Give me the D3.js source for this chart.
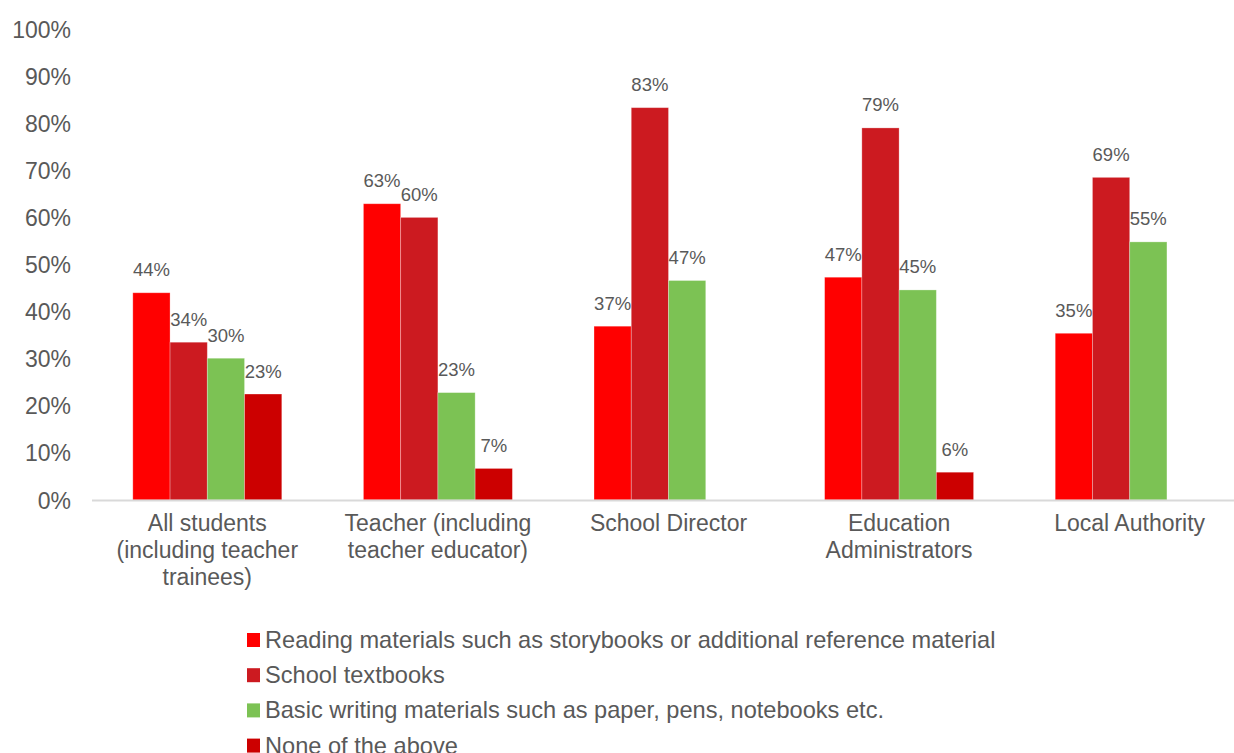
<!DOCTYPE html>
<html>
<head>
<meta charset="utf-8">
<script src="https://cdn.jsdelivr.net/npm/d3@7"></script>
<style>
  html, body { margin: 0; padding: 0; background: #ffffff; }
  svg { display: block; }
  text { font-family: "Liberation Sans", Arial, sans-serif; fill: #595959; }
</style>
</head>
<body>
<svg id="chart" width="1234" height="753"></svg>
<script>
// ---- Data ----
const categories = [
  ["All students", "(including teacher", "trainees)"],
  ["Teacher (including", "teacher educator)"],
  ["School Director"],
  ["Education", "Administrators"],
  ["Local Authority"]
];
const seriesNames = [
  "Reading materials such as storybooks or additional reference material",
  "School textbooks",
  "Basic writing materials such as paper, pens, notebooks etc.",
  "None of the above"
];
const readingMaterials = [44.0, 62.9, 36.9, 47.3, 35.4];
const schoolTextbooks  = [33.5, 60.0, 83.3, 79.0, 68.5];
const writingMaterials = [30.1, 22.8, 46.6, 44.6, 54.8];
const noneOfTheAbove   = [22.5, 6.7, null, 5.9, null];
const seriesColors = ["#ff0000", "#cc1a20", "#7cc254", "#cc0000"];
const yTicks = [0, 10, 20, 30, 40, 50, 60, 70, 80, 90, 100];

const seriesValues = [readingMaterials, schoolTextbooks, writingMaterials, noneOfTheAbove];

// ---- Layout ----
const svg = d3.select("#chart");
const x0 = d3.scaleBand()
  .domain(d3.range(categories.length))
  .range([92, 1245])
  .paddingInner(0.354)
  .paddingOuter(0.177);
const x1 = d3.scaleBand()
  .domain(d3.range(seriesNames.length))
  .range([0, x0.bandwidth()]);
const y = d3.scaleLinear().domain([0, 100]).range([500, 29]);

// Y tick labels
const yAxis = d3.axisLeft(y)
  .tickValues(yTicks)
  .tickFormat(d => d + "%")
  .tickSize(0)
  .tickPadding(0);
const yG = svg.append("g").attr("transform", "translate(71,0)").call(yAxis);
yG.select(".domain").remove();
yG.selectAll("text")
  .style("font-size", "23px")
  .style("font-family", "'Liberation Sans', Arial, sans-serif")
  .attr("fill", "#595959")
  .attr("dy", "0.35em");

// Bars
const groups = svg.append("g").selectAll("g")
  .data(categories)
  .join("g")
  .attr("transform", (d, i) => `translate(${x0(i)},0)`);

groups.each(function(cat, ci) {
  const g = d3.select(this);
  const rows = seriesValues.map((vals, si) => ({ si, v: vals[ci] }))
    .filter(d => d.v !== null);
  g.selectAll("rect")
    .data(rows)
    .join("rect")
    .attr("x", d => x1(d.si))
    .attr("y", d => y(d.v))
    .attr("width", x1.bandwidth())
    .attr("height", d => y(0) - y(d.v))
    .attr("fill", d => seriesColors[d.si])
    .attr("stroke", "#ffffff")
    .attr("stroke-opacity", 0.35)
    .attr("stroke-width", 0.8);
  g.selectAll("text.lbl")
    .data(rows)
    .join("text")
    .attr("class", "lbl")
    .attr("x", d => x1(d.si) + x1.bandwidth() / 2)
    .attr("y", d => y(d.v) - 16.5)
    .attr("text-anchor", "middle")
    .style("font-size", "18.5px")
    .text(d => Math.round(d.v) + "%");
});

// X axis line
svg.append("line")
  .attr("x1", 92).attr("x2", 1234)
  .attr("y1", y(0) + 0.5).attr("y2", y(0) + 0.5)
  .attr("stroke", "#d9d9d9")
  .attr("stroke-width", 2);

// Category labels
const catG = svg.append("g").selectAll("text")
  .data(categories)
  .join("text")
  .attr("x", (d, i) => x0(i) + x0.bandwidth() / 2)
  .attr("y", 531)
  .attr("text-anchor", "middle")
  .style("font-size", "23px");
catG.each(function(lines) {
  const t = d3.select(this);
  lines.forEach((ln, k) => {
    t.append("tspan")
      .attr("x", t.attr("x"))
      .attr("dy", k === 0 ? 0 : 27)
      .text(ln);
  });
});

// Legend
const legend = svg.append("g").selectAll("g")
  .data(seriesNames)
  .join("g")
  .attr("transform", (d, i) => `translate(247, ${640 + i * 35.2})`);
legend.append("rect")
  .attr("x", 0).attr("y", -7)
  .attr("width", 13).attr("height", 14)
  .attr("fill", (d, i) => seriesColors[i]);
legend.append("text")
  .attr("x", 18).attr("y", 8)
  .style("font-size", "23.6px")
  .text(d => d);
</script>
</body>
</html>
